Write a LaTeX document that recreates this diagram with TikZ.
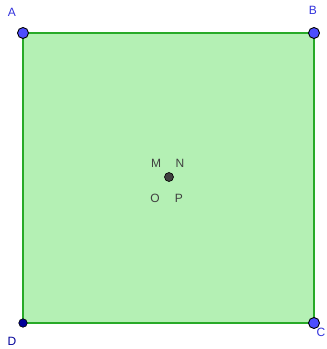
\documentclass[tikz,border=0pt]{standalone}
\usepackage{fontspec}
\setmainfont{Liberation Sans}
\definecolor{sqfill}{RGB}{180,240,180}
\definecolor{sqedge}{RGB}{40,170,40}
\definecolor{ptblue}{RGB}{77,77,255}
\definecolor{ptdark}{RGB}{0,0,153}
\definecolor{lblblue}{RGB}{50,50,220}
\definecolor{ctr}{RGB}{64,64,64}
\begin{document}
\begin{tikzpicture}[x=1pt,y=-1pt,
  bigpt/.style={circle,fill=ptblue,draw=black,line width=0.9pt,inner sep=0pt,minimum size=11pt},
  smallpt/.style={circle,fill=ptdark,draw=black,line width=0.6pt,inner sep=0pt,minimum size=8.5pt},
  ctrpt/.style={circle,fill=ctr,draw=black,line width=0.6pt,inner sep=0pt,minimum size=9pt},
  lbl/.style={inner sep=0pt,font=\fontsize{12}{14}\selectfont},
  edge/.style={draw=sqedge,line width=2pt}]
\useasboundingbox (0,0) rectangle (327,349);
\coordinate (a) at (23,33);
\coordinate (b) at (314,33);
\coordinate (c) at (314,323);
\coordinate (d) at (23,323);
\fill[sqfill] (a) -- (b) -- (c) -- (d) -- cycle;
\draw[edge] (a) -- (b) -- (c) -- (d) -- cycle;
\node[bigpt] (A) at (a) {};
\node[bigpt] (B) at (b) {};
\node[bigpt] (C) at (c) {};
\node[smallpt] (D) at (d) {};
\node[ctrpt] (M) at (169,177) {};
\node[lbl,text=lblblue] (la) at (12,12) {A};
\node[lbl,text=lblblue] (lb) at (313,10) {B};
\node[lbl,text=lblblue] (lc) at (321,332) {C};
\node[lbl,text=ptdark] (ld) at (12,341) {D};
\node[lbl,text=ctr] (lm) at (156,163) {M};
\node[lbl,text=ctr] (ln) at (180,163) {N};
\node[lbl,text=ctr] (lo) at (155,198) {O};
\node[lbl,text=ctr] (lp) at (179,198) {P};
\end{tikzpicture}
\end{document}
